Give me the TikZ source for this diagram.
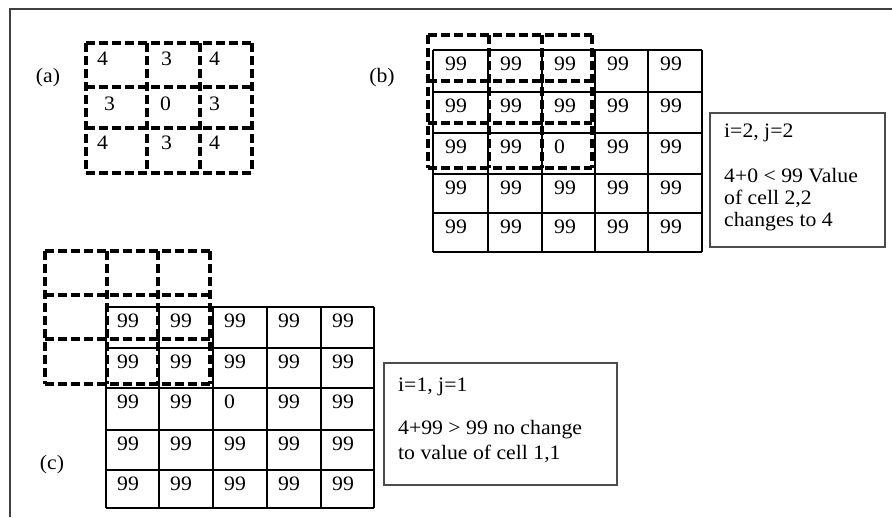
\documentclass[tikz,border=0pt]{standalone}
\usepackage{fontspec}
\setmainfont{Liberation Serif}[FakeStretch=1.06]
\begin{document}
\begin{tikzpicture}[x=1pt,y=-1pt,
  frameline/.style={draw=black!75, line width=1.5pt},
  dgrid/.style={line width=3.2pt, dash pattern=on 9pt off 4pt},
  sgrid/.style={line width=2.8pt},
  num/.style={anchor=base west, inner sep=0pt, font=\fontsize{20.5}{22}\selectfont},
  lbl/.style={inner sep=0pt, font=\fontsize{20.5}{22}\selectfont},
  notebox/.style={draw=black!70, line width=1.5pt, anchor=north west, inner sep=0pt},
  notetext/.style={anchor=base west, inner sep=0pt, font=\fontsize{20.5}{22}\selectfont}]
\useasboundingbox (0,0) rectangle (892,517);
% outer frame (only top and left visible)
\coordinate (fbl) at (10,517);
\coordinate (ftl) at (10,9);
\coordinate (ftr) at (892,9);
\draw[frameline] (fbl) -- (ftl) -- (ftr);

% ---------- (a) ----------
\node[lbl] (la) at (48,78) {(a)};
\foreach \x in {86,147,200,252} \draw[dgrid] (\x,43) -- (\x,173);
\foreach \y in {43,87,128,173} \draw[dgrid] (86,\y) -- (252,\y);
\node[num] (a11) at (97,65) {4};
\node[num] (a12) at (161,65) {3};
\node[num] (a13) at (209,65) {4};
\node[num] (a21) at (104,110) {3};
\node[num] (a22) at (160,110) {0};
\node[num] (a23) at (209,110) {3};
\node[num] (a31) at (97,149) {4};
\node[num] (a32) at (161,149) {3};
\node[num] (a33) at (209,149) {4};

% ---------- (b) ----------
\node[lbl] (lb) at (382,78) {(b)};
\foreach \x in {433,488,542,595,648,702} \draw[sgrid] (\x,50) -- (\x,252);
\foreach \y in {50,92,133,174,213,252} \draw[sgrid] (433,\y) -- (702,\y);
\foreach \r/\yt/\vals in {1/50/{99,99,99,99,99},2/92/{99,99,99,99,99},3/133/{99,99,0,99,99},4/174/{99,99,99,99,99},5/213/{99,99,99,99,99}}
  \foreach \v [count=\c] in \vals {
    \pgfmathsetmacro{\xl}{{433,488,542,595,648}[\c-1]}
    \node[num] (b\r\c) at (\xl+12,\yt+20) {\v};
  }
\foreach \x in {428,489,542,592} \draw[dgrid] (\x,35) -- (\x,168);
\foreach \y in {35,81,123,168} \draw[dgrid] (428,\y) -- (592,\y);
\node[notebox, minimum width=175pt, minimum height=134pt] (boxb) at (709,112) {};
\node[notetext] (tb1) at (724,137) {i=2, j=2};
\node[notetext] (tb2) at (724,182) {4+0 < 99 Value};
\node[notetext] (tb3) at (724,204) {of cell 2,2};
\node[notetext] (tb4) at (724,226) {changes to 4};

% ---------- (c) ----------
\node[lbl] (lc) at (52,465) {(c)};
\foreach \x in {106,159,213,267,321,374} \draw[sgrid] (\x,307) -- (\x,508);
\foreach \y in {307,348,388,430,470,508} \draw[sgrid] (106,\y) -- (374,\y);
\foreach \r/\yt/\vals in {1/307/{99,99,99,99,99},2/348/{99,99,99,99,99},3/388/{99,99,0,99,99},4/430/{99,99,99,99,99},5/470/{99,99,99,99,99}}
  \foreach \v [count=\c] in \vals {
    \pgfmathsetmacro{\xl}{{106,159,213,267,321}[\c-1]}
    \node[num] (c\r\c) at (\xl+11,\yt+20) {\v};
  }
\foreach \x in {45,107,158,210} \draw[dgrid] (\x,251) -- (\x,384);
\foreach \y in {251,295,339,384} \draw[dgrid] (45,\y) -- (210,\y);
\node[notebox, minimum width=233pt, minimum height=122pt] (boxc) at (383,362) {};
\node[notetext] (tc1) at (398,391) {i=1, j=1};
\node[notetext] (tc2) at (398,434) {4+99 > 99 no change};
\node[notetext] (tc3) at (398,459) {to value of cell 1,1};
\end{tikzpicture}
\end{document}
